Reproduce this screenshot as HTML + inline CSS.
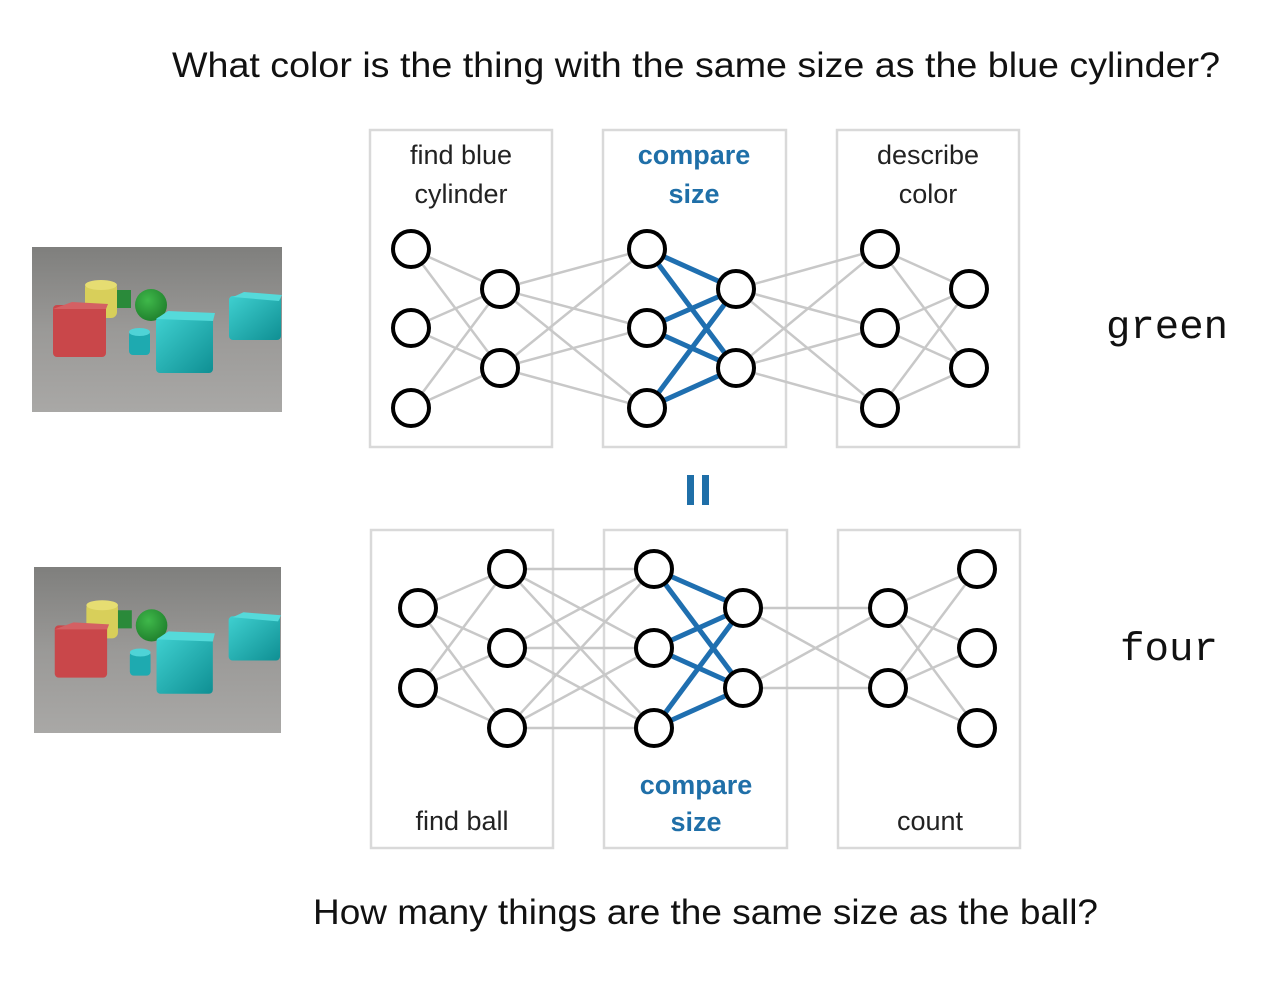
<!DOCTYPE html>
<html><head><meta charset="utf-8"><style>
html,body{margin:0;padding:0;background:#fff;width:1280px;height:989px;overflow:hidden}
svg{display:block}
</style></head><body>
<svg width="1280" height="989" viewBox="0 0 1280 989" xmlns="http://www.w3.org/2000/svg">
<defs>
<linearGradient id="bg" x1="0" y1="0" x2="0" y2="1">
<stop offset="0" stop-color="#7f7f7d"/><stop offset="0.5" stop-color="#9a9997"/><stop offset="1" stop-color="#a9a8a6"/>
</linearGradient>
<linearGradient id="cy" x1="0" y1="0" x2="1" y2="1">
<stop offset="0" stop-color="#3fd0d0"/><stop offset="1" stop-color="#0f8f93"/>
</linearGradient>
<radialGradient id="gb" cx="0.4" cy="0.35" r="0.7"><stop offset="0" stop-color="#3fb84a"/><stop offset="1" stop-color="#1f7f2c"/></radialGradient>
<g id="scene">
<rect width="250" height="165" fill="url(#bg)"/>
<rect x="53" y="35" width="32" height="36" rx="6" fill="#d8cf5a"/>
<ellipse cx="69" cy="38" rx="16" ry="5" fill="#e6dd72"/>
<rect x="85" y="43" width="14" height="18" fill="#2a8a3a"/>
<rect x="21" y="58" width="53" height="52" rx="4" fill="#c9474a"/>
<path d="M21 62 L40 55 L76 57 L74 62 Z" fill="#d46063"/>
<circle cx="119" cy="58" r="16" fill="url(#gb)"/>
<rect x="97" y="84" width="21" height="24" rx="4" fill="#1eaab0"/>
<ellipse cx="107.5" cy="85" rx="10.5" ry="4" fill="#4fd3d6"/>
<rect x="124" y="70" width="57" height="56" rx="4" fill="url(#cy)"/>
<path d="M124 72 L136 64 L183 66 L181 74 Z" fill="#55dada"/>
<rect x="197" y="49" width="52" height="44" rx="4" fill="url(#cy)"/>
<path d="M201 50 L212 45 L250 48 L247 54 Z" fill="#55dada"/>
</g>
</defs>

<text x="172" y="77" textLength="1048" lengthAdjust="spacingAndGlyphs" font-family="Liberation Sans, sans-serif" font-size="35" fill="#111">What color is the thing with the same size as the blue cylinder?</text>
<text x="313" y="924" textLength="785" lengthAdjust="spacingAndGlyphs" font-family="Liberation Sans, sans-serif" font-size="35" fill="#111">How many things are the same size as the ball?</text>

<use href="#scene" x="32" y="247"/>
<use href="#scene" transform="translate(34,567) scale(0.988,1.006)"/>

<g fill="none" stroke="#d9d9d9" stroke-width="2.5">
<rect x="370" y="130" width="182" height="317"/>
<rect x="603" y="130" width="183" height="317"/>
<rect x="837" y="130" width="182" height="317"/>
<rect x="371" y="530" width="182" height="318"/>
<rect x="604" y="530" width="183" height="318"/>
<rect x="838" y="530" width="182" height="318"/>
</g>

<g font-family="Liberation Sans, sans-serif" font-size="27" text-anchor="middle" fill="#222">
<text x="461" y="164">find blue</text>
<text x="461" y="203">cylinder</text>
<text x="928" y="164">describe</text>
<text x="928" y="203">color</text>
<text x="462" y="830">find ball</text>
<text x="930" y="830">count</text>
</g>
<g font-family="Liberation Sans, sans-serif" font-size="27" font-weight="bold" text-anchor="middle" fill="#1f6fa8">
<text x="694" y="164">compare</text>
<text x="694" y="203">size</text>
<text x="696" y="794">compare</text>
<text x="696" y="831">size</text>
</g>

<g fill="#1f6fa8"><rect x="687" y="475" width="7" height="30"/><rect x="702" y="475" width="7" height="30"/></g>

<g font-family="Liberation Mono, monospace" font-size="40" fill="#111">
<text x="1106" y="338" textLength="122" lengthAdjust="spacingAndGlyphs">green</text>
<text x="1120" y="660" textLength="98" lengthAdjust="spacingAndGlyphs">four</text>
</g>

<g stroke="#c8c8c8" stroke-width="2.5">
<line x1="411" y1="249" x2="500" y2="289"/><line x1="411" y1="249" x2="500" y2="368"/>
<line x1="411" y1="328" x2="500" y2="289"/><line x1="411" y1="328" x2="500" y2="368"/>
<line x1="411" y1="408" x2="500" y2="289"/><line x1="411" y1="408" x2="500" y2="368"/>
<line x1="500" y1="289" x2="647" y2="249"/><line x1="500" y1="289" x2="647" y2="328"/><line x1="500" y1="289" x2="647" y2="408"/>
<line x1="500" y1="368" x2="647" y2="249"/><line x1="500" y1="368" x2="647" y2="328"/><line x1="500" y1="368" x2="647" y2="408"/>
<line x1="736" y1="289" x2="880" y2="249"/><line x1="736" y1="289" x2="880" y2="328"/><line x1="736" y1="289" x2="880" y2="408"/>
<line x1="736" y1="368" x2="880" y2="249"/><line x1="736" y1="368" x2="880" y2="328"/><line x1="736" y1="368" x2="880" y2="408"/>
<line x1="880" y1="249" x2="969" y2="289"/><line x1="880" y1="249" x2="969" y2="368"/>
<line x1="880" y1="328" x2="969" y2="289"/><line x1="880" y1="328" x2="969" y2="368"/>
<line x1="880" y1="408" x2="969" y2="289"/><line x1="880" y1="408" x2="969" y2="368"/>
<line x1="418" y1="608" x2="507" y2="569"/><line x1="418" y1="608" x2="507" y2="648"/><line x1="418" y1="608" x2="507" y2="728"/>
<line x1="418" y1="688" x2="507" y2="569"/><line x1="418" y1="688" x2="507" y2="648"/><line x1="418" y1="688" x2="507" y2="728"/>
<line x1="507" y1="569" x2="654" y2="569"/><line x1="507" y1="569" x2="654" y2="648"/><line x1="507" y1="569" x2="654" y2="728"/>
<line x1="507" y1="648" x2="654" y2="569"/><line x1="507" y1="648" x2="654" y2="648"/><line x1="507" y1="648" x2="654" y2="728"/>
<line x1="507" y1="728" x2="654" y2="569"/><line x1="507" y1="728" x2="654" y2="648"/><line x1="507" y1="728" x2="654" y2="728"/>
<line x1="743" y1="608" x2="888" y2="608"/><line x1="743" y1="608" x2="888" y2="688"/>
<line x1="743" y1="688" x2="888" y2="608"/><line x1="743" y1="688" x2="888" y2="688"/>
<line x1="888" y1="608" x2="977" y2="569"/><line x1="888" y1="608" x2="977" y2="648"/><line x1="888" y1="608" x2="977" y2="728"/>
<line x1="888" y1="688" x2="977" y2="569"/><line x1="888" y1="688" x2="977" y2="648"/><line x1="888" y1="688" x2="977" y2="728"/>
</g>
<g stroke="#1f6fb0" stroke-width="5">
<line x1="647" y1="249" x2="736" y2="289"/><line x1="647" y1="249" x2="736" y2="368"/>
<line x1="647" y1="328" x2="736" y2="289"/><line x1="647" y1="328" x2="736" y2="368"/>
<line x1="647" y1="408" x2="736" y2="289"/><line x1="647" y1="408" x2="736" y2="368"/>
<line x1="654" y1="569" x2="743" y2="608"/><line x1="654" y1="569" x2="743" y2="688"/>
<line x1="654" y1="648" x2="743" y2="608"/><line x1="654" y1="648" x2="743" y2="688"/>
<line x1="654" y1="728" x2="743" y2="608"/><line x1="654" y1="728" x2="743" y2="688"/>
</g>
<g fill="#fff" stroke="#000" stroke-width="4">
<circle cx="411" cy="249" r="18"/><circle cx="411" cy="328" r="18"/><circle cx="411" cy="408" r="18"/>
<circle cx="500" cy="289" r="18"/><circle cx="500" cy="368" r="18"/>
<circle cx="647" cy="249" r="18"/><circle cx="647" cy="328" r="18"/><circle cx="647" cy="408" r="18"/>
<circle cx="736" cy="289" r="18"/><circle cx="736" cy="368" r="18"/>
<circle cx="880" cy="249" r="18"/><circle cx="880" cy="328" r="18"/><circle cx="880" cy="408" r="18"/>
<circle cx="969" cy="289" r="18"/><circle cx="969" cy="368" r="18"/>
<circle cx="418" cy="608" r="18"/><circle cx="418" cy="688" r="18"/>
<circle cx="507" cy="569" r="18"/><circle cx="507" cy="648" r="18"/><circle cx="507" cy="728" r="18"/>
<circle cx="654" cy="569" r="18"/><circle cx="654" cy="648" r="18"/><circle cx="654" cy="728" r="18"/>
<circle cx="743" cy="608" r="18"/><circle cx="743" cy="688" r="18"/>
<circle cx="888" cy="608" r="18"/><circle cx="888" cy="688" r="18"/>
<circle cx="977" cy="569" r="18"/><circle cx="977" cy="648" r="18"/><circle cx="977" cy="728" r="18"/>
</g>
</svg>
</body></html>
